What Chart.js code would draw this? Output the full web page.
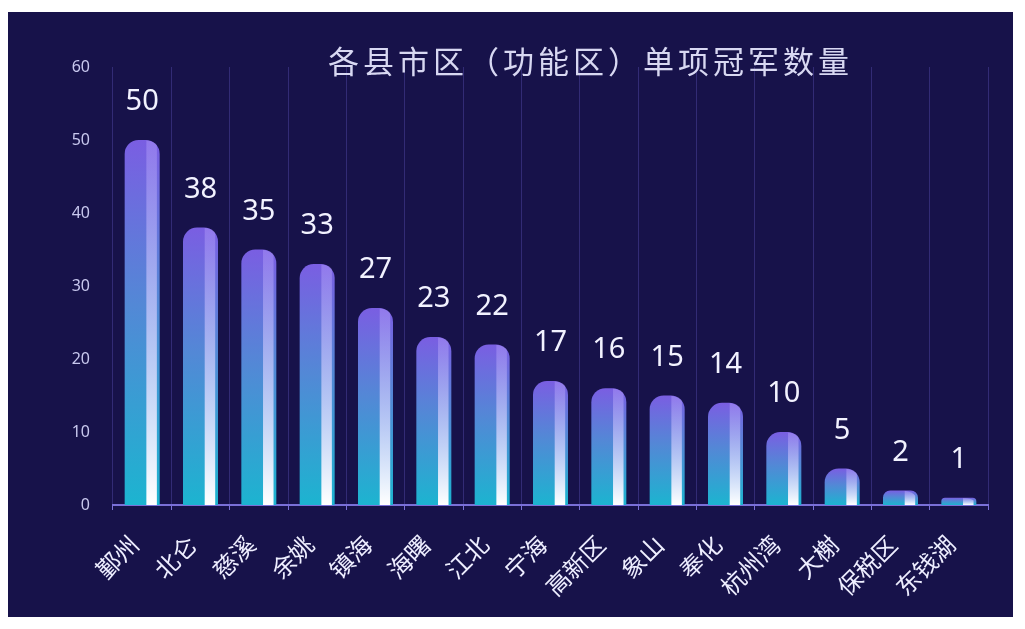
<!DOCTYPE html>
<html lang="zh">
<head>
<meta charset="UTF-8">
<title>各县市区（功能区）单项冠军数量</title>
<script src="https://cdn.jsdelivr.net/npm/chart.js"></script>
<style>
  html, body { margin: 0; padding: 0; background: #ffffff; }
  #box { position: absolute; left: 8px; top: 12px; width: 1005px; height: 605px; background: #17124a; }
  #title { position: absolute; left: 0; width: 1005px; top: 28px; text-align: center; padding-left: 160px; box-sizing: border-box;
           font-family: "Noto Sans CJK SC", sans-serif; font-size: 31px; color: #d8d8f2; letter-spacing: 4px; line-height: 40px; }
</style>
</head>
<body>
<div id="box">
  <canvas id="guanjun-chart" width="1005" height="605"></canvas>
  <div id="title">各县市区（功能区）单项冠军数量</div>
</div>

<script>
var quxian = ['鄞州', '北仑', '慈溪', '余姚', '镇海', '海曙', '江北', '宁海', '高新区', '象山', '奉化', '杭州湾', '大榭', '保税区', '东钱湖'];
var shuliang = [50, 38, 35, 33, 27, 23, 22, 17, 16, 15, 14, 10, 5, 2, 1];
var yTicks = [0, 10, 20, 30, 40, 50, 60];

// degradado vertical de cada barra: morado arriba, cian abajo
function colorBarra(context) {
    var chart = context.chart;
    var yScale = chart.scales.y;
    if (!chart.chartArea || !yScale) return '#5a7fe0';
    var top = yScale.getPixelForValue(context.raw);
    var base = yScale.getPixelForValue(0);
    if (base - top < 2) top = base - 2;
    var g = chart.ctx.createLinearGradient(0, top, 0, base);
    g.addColorStop(0, '#7a5ee2');
    g.addColorStop(0.45, '#5388d6');
    g.addColorStop(1, '#1cb4d0');
    return g;
}

// brillo blanco en el lado derecho de cada barra + valores encima
var brilloYEtiquetas = {
    id: 'brilloYEtiquetas',
    afterDatasetsDraw: function(chart) {
        var ctx = chart.ctx;
        var meta = chart.getDatasetMeta(0);
        var base = chart.scales.y.getPixelForValue(0);
        meta.data.forEach(function(bar, i) {
            var w = bar.width;
            var left = bar.x - w / 2;
            var r = Math.min(14, w / 2, (base - bar.y));
            ctx.save();
            ctx.beginPath();
            ctx.moveTo(left, base);
            ctx.lineTo(left, bar.y + r);
            ctx.quadraticCurveTo(left, bar.y, bar.x, bar.y);
            ctx.quadraticCurveTo(left + w, bar.y, left + w, bar.y + r);
            ctx.lineTo(left + w, base);
            ctx.closePath();
            ctx.clip();
            var g = ctx.createLinearGradient(0, bar.y, 0, base);
            g.addColorStop(0, 'rgba(190,170,255,0.35)');
            g.addColorStop(0.5, 'rgba(215,210,255,0.7)');
            g.addColorStop(1, 'rgba(255,255,255,1)');
            ctx.fillStyle = g;
            ctx.fillRect(left + w * 0.62, bar.y, w * 0.3, base - bar.y);
            ctx.restore();

            ctx.save();
            ctx.fillStyle = '#f2f2ff';
            ctx.font = '29px "Noto Sans", sans-serif';
            ctx.textAlign = 'center';
            ctx.textBaseline = 'middle';
            ctx.fillText(String(shuliang[i]), bar.x, bar.y - 38);
            ctx.restore();
        });
    }
};

var ctx = document.getElementById('guanjun-chart').getContext('2d');
var chart = new Chart(ctx, {
    type: 'bar',
    data: {
        labels: quxian,
        datasets: [{
            label: '单项冠军数量',
            data: shuliang,
            backgroundColor: colorBarra,
            borderWidth: 0,
            borderRadius: { topLeft: 14, topRight: 14, bottomLeft: 0, bottomRight: 0 },
            borderSkipped: 'bottom',
            categoryPercentage: 1,
            barPercentage: 0.6
        }]
    },
    options: {
        responsive: false,
        animation: false,
        layout: { padding: { left: 0, right: 25, top: 55, bottom: 0 } },
        plugins: {
            legend: { display: false },
            tooltip: { enabled: false }
        },
        scales: {
            x: {
                offset: true,
                afterFit: function(scale) { scale.height = 112; },
                grid: { display: true, offset: true, color: 'rgba(85,75,170,0.45)', drawTicks: true, tickLength: 5, tickColor: '#7a70d8' },
                border: { display: true, color: '#7a70d8', width: 2 },
                ticks: {
                    color: '#eeeeff',
                    font: { family: '"Noto Sans CJK SC", sans-serif', size: 24 },
                    minRotation: 45,
                    maxRotation: 45,
                    autoSkip: false,
                    padding: 20,
                    labelOffset: -8
                }
            },
            y: {
                min: 0,
                max: 60,
                afterFit: function(scale) { scale.width = 105; },
                afterBuildTicks: function(axis) {
                    axis.ticks = yTicks.map(function(v) { return { value: v }; });
                },
                grid: { display: false },
                border: { display: false },
                ticks: {
                    color: '#c8c8ee',
                    font: { family: '"Noto Sans", sans-serif', size: 16 },
                    padding: 15
                }
            }
        }
    },
    plugins: [brilloYEtiquetas]
});
</script>

</body>
</html>
